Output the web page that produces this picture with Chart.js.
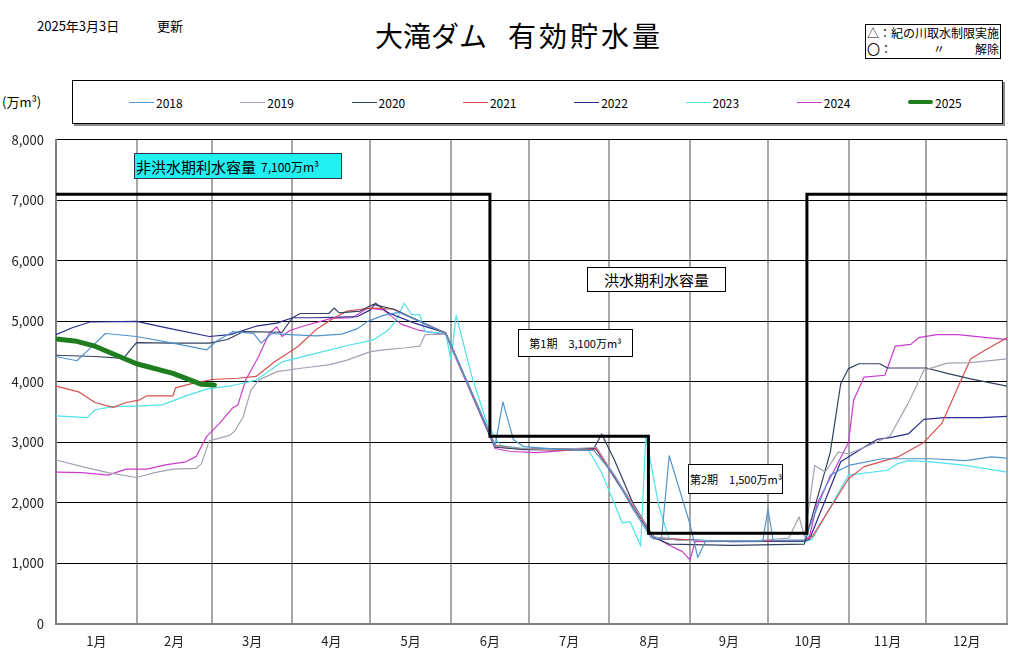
<!DOCTYPE html>
<html lang="ja">
<head>
<meta charset="utf-8">
<title>大滝ダム 有効貯水量</title>
<script src="https://cdn.jsdelivr.net/npm/chart.js@4.4.1/dist/chart.umd.min.js"></script>
<style>
  html, body { margin: 0; padding: 0; background: #fff; }
  body { width: 1024px; height: 661px; position: relative; overflow: hidden;
         font-family: "Noto Sans CJK JP", "Noto Sans", sans-serif; color: #000; }
  .abs { position: absolute; white-space: nowrap; }
  #wrap { position: absolute; left: 0; top: 120px; width: 1024px; height: 541px; }
  #legend { position: absolute; left: 72px; top: 80px; width: 929px; height: 42px;
            border: 1px solid #000; box-shadow: 2px 2px 0 #8c8c8c; background: #fff; }
  .lg-item { position: absolute; top: 13px; height: 16px; display: flex; align-items: center; font-size: 12px; }
  .lg-line { display: inline-block; width: 25px; margin-right: 2px; }
  #note { position: absolute; left: 865px; top: 24px; width: 133px; height: 33px;
          border: 1px solid #000; font-size: 12px; line-height: 16px; padding-left: 1px; color: #000; }
  .box { position: absolute; border: 1px solid #000; background: #fff; z-index: 5;
         display: flex; align-items: center; white-space: nowrap; }
</style>
</head>
<body>
<div class="abs" style="left:37px;top:16px;font-size:13px;">2025年3月3日</div>
<div class="abs" style="left:157px;top:16px;font-size:13px;">更新</div>
<div class="abs" style="left:375px;top:19px;font-size:28px;line-height:32px;">大滝ダム</div>
<div class="abs" style="left:508px;top:19px;font-size:28px;line-height:32px;letter-spacing:3px;">有効貯水量</div>
<div id="note">
  <div>△：紀の川取水制限実施</div>
  <div style="position:relative;height:16px;"><span style="font-size:13px;color:#000;">〇</span><span>：</span><span class="abs" style="left:66px;">〃</span><span class="abs" style="right:1px;">解除</span></div>
</div>
<div class="abs" style="left:2px;top:92px;font-size:13px;">(万m³)</div>
<div id="legend"></div>

<div id="wrap"><canvas id="damChart" width="1024" height="541"></canvas></div>

<div class="box" style="left:134px;top:153px;width:205px;height:24px;background:#22f0f0;border-color:#335;font-size:15px;padding-left:1px;">非洪水期利水容量<span style="font-size:12px;margin-left:5px;">7,100万m³</span></div>
<div class="box" style="left:587px;top:267px;width:137px;height:23px;font-size:15px;justify-content:center;">洪水期利水容量</div>
<div class="box" style="left:518px;top:329px;width:113px;height:26px;font-size:11px;justify-content:center;">第1期　3,100万m³</div>
<div class="box" style="left:688px;top:464px;width:92px;height:28px;font-size:11px;padding-left:1px;">第2期　1,500万m³</div>

<script>
const MONTH_LABELS = ["1月", "2月", "3月", "4月", "5月", "6月", "7月", "8月", "9月", "10月", "11月", "12月"];
// day index of each month start (leap-year axis), last = end of year
const MONTH_STARTS = [0, 31, 60, 91, 121, 152, 182, 213, 244, 274, 305, 335, 366];
const Y_TICKS = [0, 1000, 2000, 3000, 4000, 5000, 6000, 7000, 8000];

const YEARS = ["2018", "2019", "2020", "2021", "2022", "2023", "2024", "2025"];
const COLORS = ["#4f94cd", "#a2a2b2", "#34405e", "#d85050", "#2c2c90", "#4ee2ea", "#cc3ccc", "#1e7d1e"];

// [day, 万m3]
const vol2018 = [[0,4420],[8,4350],[13,4550],[19,4800],[31,4750],[45,4640],[58,4530],[62,4680],[68,4830],[76,4800],[79,4640],[83,4800],[90,4780],[100,4760],[110,4790],[116,4880],[120,5000],[126,5100],[132,5150],[140,5000],[150,4800],[169,2950],[172,3670],[176,3050],[180,2930],[195,2880],[207,2870],[215,2450],[222,1900],[229,1430],[233,1400],[236,2780],[244,1650],[247,1100],[250,1370],[272,1370],[274,1900],[276,1380],[288,1390],[298,2460],[305,2620],[318,2730],[337,2730],[350,2700],[360,2760],[366,2740]];
const vol2019 = [[0,2710],[10,2600],[20,2500],[31,2420],[38,2500],[45,2560],[54,2570],[56,2650],[59,3030],[63,3070],[67,3120],[69,3200],[72,3420],[75,3860],[78,4030],[85,4170],[95,4230],[105,4280],[112,4360],[121,4500],[126,4530],[134,4560],[140,4590],[142,4780],[150,4790],[169,2940],[180,2900],[190,2880],[200,2900],[208,2920],[230,1440],[240,1380],[270,1380],[282,1420],[286,1770],[288,1450],[290,2000],[292,2620],[296,2510],[301,2840],[305,2810],[314,2970],[321,3110],[328,3650],[334,4190],[343,4310],[352,4320],[366,4380]];
const vol2020 = [[0,4440],[15,4420],[26,4390],[29,4550],[31,4650],[45,4640],[59,4640],[66,4700],[72,4830],[87,4820],[91,5060],[94,5130],[105,5130],[107,5220],[109,5140],[117,5170],[122,5280],[130,5200],[140,5000],[150,4800],[169,2920],[180,2890],[207,2900],[210,3140],[215,2700],[222,2000],[230,1430],[236,1320],[260,1300],[288,1320],[298,2840],[302,3970],[305,4220],[309,4300],[317,4300],[320,4230],[335,4230],[343,4140],[352,4050],[366,3930]];
const vol2021 = [[0,3930],[9,3830],[15,3660],[22,3580],[27,3660],[32,3700],[35,3770],[45,3770],[46,3900],[51,3960],[60,4040],[70,4060],[77,4090],[84,4330],[93,4580],[100,4860],[106,5030],[112,5170],[117,5200],[123,5220],[130,5200],[140,5000],[150,4810],[169,2950],[180,2890],[195,2870],[208,2890],[230,1430],[250,1370],[288,1380],[291,1440],[305,2400],[311,2600],[324,2760],[334,3000],[341,3320],[348,4000],[352,4380],[357,4510],[366,4730]];
const vol2022 = [[0,4780],[6,4890],[13,4990],[31,5000],[44,4880],[59,4750],[67,4780],[77,4920],[85,4970],[91,5060],[100,5060],[116,5080],[121,5190],[123,5300],[128,5140],[138,4970],[150,4810],[169,2930],[180,2880],[208,2880],[230,1410],[260,1360],[288,1370],[290,1400],[302,2680],[311,2920],[316,3050],[321,3080],[328,3140],[334,3380],[342,3410],[356,3410],[366,3430]];
const vol2023 = [[0,3440],[12,3410],[15,3540],[22,3590],[31,3600],[41,3620],[50,3770],[58,3880],[68,3940],[77,4030],[87,4330],[100,4470],[113,4610],[122,4690],[128,4860],[131,5030],[134,5300],[137,5110],[140,5110],[142,4830],[150,4800],[152,4360],[154,5100],[160,4100],[166,3300],[171,2950],[180,2900],[205,2870],[210,2500],[218,1670],[221,1690],[225,1290],[227,3090],[232,1950],[236,1400],[260,1370],[288,1360],[291,1400],[305,2460],[320,2540],[324,2650],[328,2700],[337,2680],[350,2620],[366,2510]];
const vol2024 = [[0,2510],[10,2500],[20,2460],[27,2560],[35,2560],[42,2630],[50,2680],[54,2770],[58,3100],[63,3320],[68,3570],[70,3620],[73,4030],[78,4420],[82,4800],[85,4910],[87,4750],[90,4850],[95,4920],[106,5050],[114,5060],[120,5220],[126,5190],[133,4950],[140,4850],[150,4780],[169,2900],[175,2850],[185,2830],[200,2880],[208,2900],[230,1450],[236,1300],[241,1200],[244,1060],[246,1360],[270,1370],[288,1380],[290,1450],[293,2000],[305,3000],[307,3700],[311,4080],[319,4110],[323,4590],[329,4620],[332,4730],[339,4780],[347,4780],[366,4700]];
const vol2025 = [[0,4710],[8,4670],[15,4590],[31,4300],[45,4140],[56,3960],[61,3950]];

// 利水容量 (非洪水期 7,100 / 第1期 3,100 / 第2期 1,500)
const CAP_DAYS = [0, 167, 167, 228, 228, 289, 289, 366];
const CAP_VALUES = [7100, 7100, 3100, 3100, 1500, 1500, 7100, 7100];

const SERIES = [vol2018, vol2019, vol2020, vol2021, vol2022, vol2023, vol2024, vol2025];
const MONTH_MIDS = MONTH_LABELS.map((_, i) => (MONTH_STARTS[i] + MONTH_STARTS[i + 1]) / 2);
const X_TICKS = MONTH_STARTS.concat(MONTH_MIDS).sort((a, b) => a - b);

function buildLegend() {
  const el = document.getElementById("legend");
  YEARS.forEach((y, i) => {
    const item = document.createElement("div");
    item.className = "lg-item";
    item.style.left = (56 + i * 111.3) + "px";
    const line = document.createElement("span");
    line.className = "lg-line";
    const w = y === "2025" ? 4 : 1;
    line.style.height = w + "px";
    line.style.background = COLORS[i];
    if (w > 1) line.style.borderRadius = "2px";
    item.appendChild(line);
    item.appendChild(document.createTextNode(y));
    el.appendChild(item);
  });
}

Chart.defaults.font.family = '"Noto Sans CJK JP", "Noto Sans", sans-serif';

const datasets = YEARS.map((y, i) => {
  const thick = y === "2025";
  return {
    label: y,
    data: SERIES[i].map(([d, v]) => ({ x: d, y: v })),
    borderColor: COLORS[i],
    borderWidth: thick ? 5 : 1.2,
    borderCapStyle: thick ? "round" : "butt",
    borderJoinStyle: "round",
    pointRadius: 0,
    tension: 0,
    fill: false,
    order: thick ? 1 : 2,
  };
});
datasets.push({
  label: "利水容量",
  data: CAP_DAYS.map((d, i) => ({ x: d, y: CAP_VALUES[i] })),
  borderColor: "#000",
  borderWidth: 3,
  pointRadius: 0,
  tension: 0,
  fill: false,
  order: 0,
});

new Chart(document.getElementById("damChart"), {
  type: "line",
  data: { datasets },
  options: {
    responsive: false,
    animation: false,
    layout: { padding: { top: 0, right: 17, left: 0, bottom: 0 } },
    plugins: { legend: { display: false }, tooltip: { enabled: false } },
    scales: {
      x: {
        type: "linear",
        min: 0,
        max: 366,
        afterBuildTicks: (s) => { s.ticks = X_TICKS.map((v) => ({ value: v })); },
        afterFit: (s) => { s.height = 37; },
        grid: {
          drawTicks: false,
          lineWidth: 2,
          color: (ctx) => (ctx.tick && MONTH_STARTS.includes(ctx.tick.value) ? "#a8a8a8" : "rgba(0,0,0,0)"),
        },
        border: { color: "#808080", width: 2 },
        ticks: {
          autoSkip: false,
          maxRotation: 0,
          padding: 9,
          color: "#222",
          font: { size: 13 },
          callback: (v) => {
            const i = MONTH_MIDS.indexOf(v);
            return i >= 0 ? MONTH_LABELS[i] : "";
          },
        },
      },
      y: {
        min: Y_TICKS[0],
        max: Y_TICKS[Y_TICKS.length - 1],
        afterBuildTicks: (s) => { s.ticks = Y_TICKS.map((v) => ({ value: v })); },
        afterFit: (s) => { s.width = 56; },
        grid: { drawTicks: false, color: "#000", lineWidth: 1 },
        border: { color: "#808080", width: 2 },
        ticks: {
          padding: 12,
          color: "#222",
          font: { size: 13 },
          callback: (v) => Number(v).toLocaleString("en-US"),
        },
      },
    },
  },
});

buildLegend();
</script>
</body>
</html>
